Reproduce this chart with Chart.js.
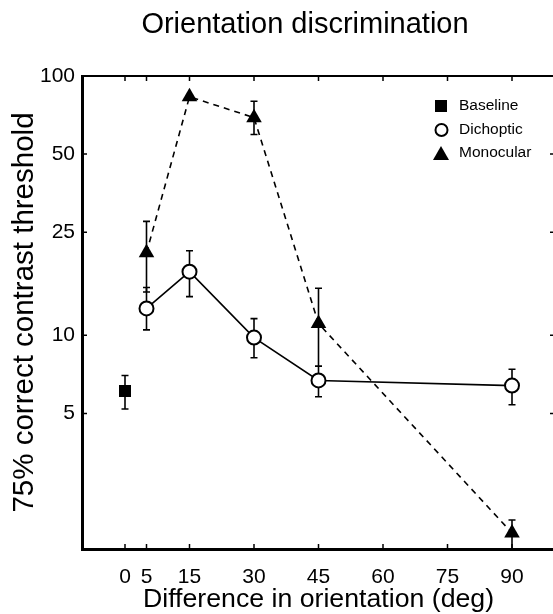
<!DOCTYPE html>
<html>
<head>
<meta charset="utf-8">
<script src="https://cdn.jsdelivr.net/npm/chart.js@4/dist/chart.umd.min.js"></script>
<style>
  html, body { margin: 0; padding: 0; background: #fff; overflow: hidden; }
  #wrap { width: 564px; height: 614px; }
</style>
</head>
<body>
<div id="wrap"><canvas id="chart"></canvas></div>
<script>
// Datos
const xTicks = [0, 5, 15, 30, 45, 60, 75, 90];
const yTicks = [5, 10, 25, 50, 100];

const baselineX = [0];
const baseline = [6.1];
const baselineHi = [7.0];
const baselineLo = [5.2];

const angles = [5, 15, 30, 45, 90];
const dichoptic = [12.7, 17.6, 9.8, 6.7, 6.4];
const dichopticHi = [15.3, 21.2, 11.6, 7.6, 7.4];
const dichopticLo = [10.5, 14.1, 8.2, 5.8, 5.4];

const monocular = [20.8, 83.2, 69.1, 11.1, 1.73];
const monocularHi = [27.5, null, 79.9, 15.2, 1.94];
const monocularLo = [14.7, null, 59.5, 7.6, 1.5];

const FONT = '"Liberation Sans", Arial, Helvetica, sans-serif';

const toPts = (xs, ys) => xs.map((x, i) => ({ x: x, y: ys[i] }));

// Barras de error (dibujadas con las escalas del gráfico)
const errorBars = {
    id: 'errorBars',
    beforeDatasetsDraw(chart) {
        const ctx = chart.ctx;
        const xs = chart.scales.x, ys = chart.scales.y;
        const groups = [
            [baselineX, baselineHi, baselineLo],
            [angles, dichopticHi, dichopticLo],
            [angles, monocularHi, monocularLo]
        ];
        ctx.save();
        ctx.strokeStyle = '#000';
        ctx.lineWidth = 1.6;
        groups.forEach(g => {
            g[0].forEach((x, i) => {
                if (g[1][i] == null) return;
                const px = xs.getPixelForValue(x);
                const y1 = ys.getPixelForValue(g[1][i]);
                const y2 = ys.getPixelForValue(g[2][i]);
                ctx.beginPath();
                ctx.moveTo(px, y1); ctx.lineTo(px, y2);
                ctx.moveTo(px - 3.5, y1); ctx.lineTo(px + 3.5, y1);
                ctx.moveTo(px - 3.5, y2); ctx.lineTo(px + 3.5, y2);
                ctx.stroke();
            });
        });
        ctx.restore();
    }
};

// Marco, marcas interiores, título y leyenda
const decor = {
    id: 'decor',
    afterDraw(chart) {
        const ctx = chart.ctx;
        const a = chart.chartArea;
        const xs = chart.scales.x, ys = chart.scales.y;
        ctx.save();
        ctx.strokeStyle = '#000';
        // línea superior
        ctx.lineWidth = 2;
        ctx.beginPath();
        ctx.moveTo(a.left, a.top); ctx.lineTo(a.right, a.top);
        ctx.stroke();
        // marcas hacia dentro
        ctx.lineWidth = 1.5;
        ctx.beginPath();
        xTicks.forEach(v => {
            const px = xs.getPixelForValue(v);
            ctx.moveTo(px, a.bottom); ctx.lineTo(px, a.bottom - 5);
            ctx.moveTo(px, a.top); ctx.lineTo(px, a.top + 5);
        });
        yTicks.forEach(v => {
            const py = ys.getPixelForValue(v);
            ctx.moveTo(a.left, py); ctx.lineTo(a.left + 5, py);
            ctx.moveTo(a.right, py); ctx.lineTo(a.right - 5, py);
        });
        ctx.stroke();

        // título
        ctx.fillStyle = '#000';
        ctx.font = '29px ' + FONT;
        ctx.textAlign = 'center';
        ctx.textBaseline = 'alphabetic';
        ctx.fillText('Orientation discrimination', 305, 33);

        // leyenda
        const lx = 441, tx = 459;
        ctx.font = '15.5px ' + FONT;
        ctx.textAlign = 'left';
        ctx.textBaseline = 'middle';
        ctx.fillRect(lx - 6, 100, 12, 12);
        ctx.fillText('Baseline', tx, 106);
        ctx.lineWidth = 2;
        ctx.beginPath();
        ctx.arc(lx + 0.5, 130, 6, 0, Math.PI * 2);
        ctx.fillStyle = '#fff'; ctx.fill();
        ctx.stroke();
        ctx.fillStyle = '#000';
        ctx.fillText('Dichoptic', tx, 130);
        ctx.beginPath();
        ctx.moveTo(lx, 146); ctx.lineTo(lx + 8, 160); ctx.lineTo(lx - 8, 160);
        ctx.closePath(); ctx.fill();
        ctx.fillText('Monocular', tx, 153);
        ctx.restore();
    }
};

const ctx = document.getElementById('chart').getContext('2d');
new Chart(ctx, {
    type: 'line',
    data: {
        datasets: [
            {
                label: 'Baseline',
                data: toPts(baselineX, baseline),
                showLine: false,
                pointStyle: 'rect',
                pointRadius: 8.5,
                pointBackgroundColor: '#000',
                pointBorderColor: '#000',
                pointBorderWidth: 0
            },
            {
                label: 'Dichoptic',
                data: toPts(angles, dichoptic),
                borderColor: '#000',
                borderWidth: 1.6,
                pointStyle: 'circle',
                pointRadius: 7,
                pointBackgroundColor: '#fff',
                pointBorderColor: '#000',
                pointBorderWidth: 2,
                tension: 0
            },
            {
                label: 'Monocular',
                data: toPts(angles, monocular),
                borderColor: '#000',
                borderWidth: 1.6,
                borderDash: [6, 5],
                pointStyle: 'triangle',
                pointRadius: 9,
                pointBackgroundColor: '#000',
                pointBorderColor: '#000',
                pointBorderWidth: 0,
                tension: 0
            }
        ]
    },
    options: {
        responsive: true,
        maintainAspectRatio: false,
        animation: false,
        clip: false,
        layout: { padding: { top: 76, right: 1, left: 0, bottom: 0 } },
        plugins: {
            legend: { display: false },
            tooltip: { enabled: false },
            title: { display: false }
        },
        scales: {
            x: {
                type: 'linear',
                min: -10,
                max: 100,
                afterBuildTicks: s => { s.ticks = xTicks.map(v => ({ value: v })); },
                afterFit: s => { s.height = 65; },
                grid: { display: false, drawTicks: false },
                border: { display: true, color: '#000', width: 3 },
                ticks: {
                    color: '#000',
                    padding: 16,
                    maxRotation: 0,
                    font: { family: FONT, size: 21 },
                    callback: v => String(v)
                },
                title: {
                    display: true,
                    text: 'Difference in orientation (deg)',
                    color: '#000',
                    font: { family: FONT, size: 26.7 },
                    padding: { top: 0, bottom: -2 }
                }
            },
            y: {
                type: 'logarithmic',
                min: 1.5,
                max: 100,
                afterBuildTicks: s => { s.ticks = yTicks.map(v => ({ value: v })); },
                afterFit: s => { s.width = 82; },
                grid: { display: false, drawTicks: false },
                border: { display: true, color: '#000', width: 3 },
                ticks: {
                    color: '#000',
                    padding: 7,
                    font: { family: FONT, size: 21 },
                    callback: v => String(v)
                },
                title: {
                    display: true,
                    text: '75% correct contrast threshold',
                    color: '#000',
                    font: { family: FONT, size: 29.5 },
                    padding: { top: 7, bottom: 0 }
                }
            }
        }
    },
    plugins: [errorBars, decor]
});
</script>
</body>
</html>
